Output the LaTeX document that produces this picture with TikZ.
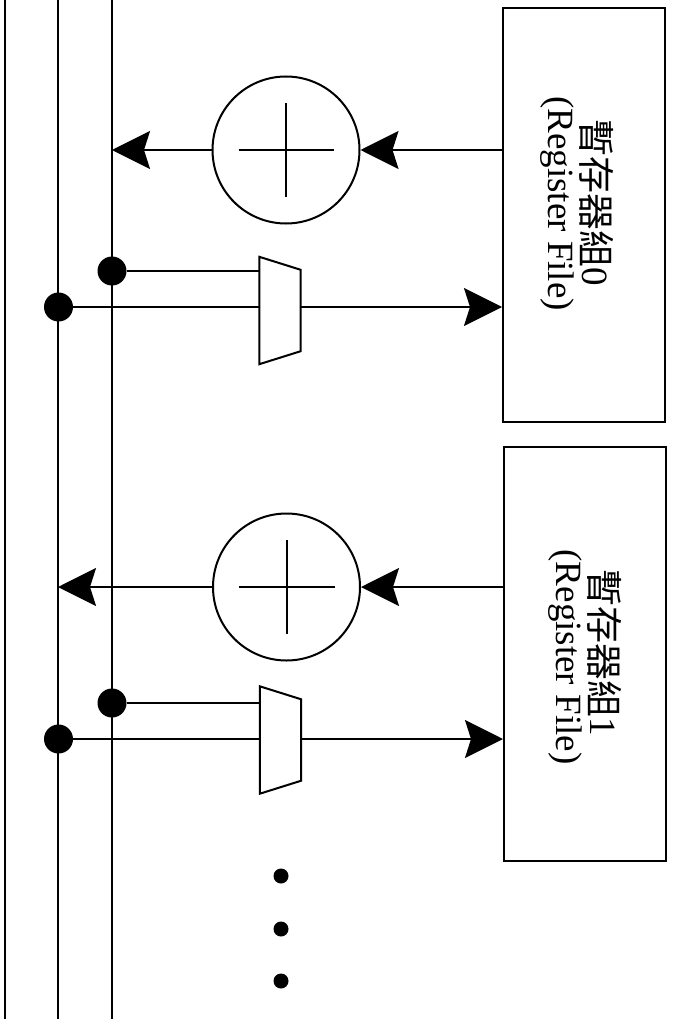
\documentclass[tikz,border=0pt]{standalone}
\usepackage{fontspec}
\setmainfont{Liberation Serif}
\newfontfamily\cjk{Noto Sans CJK TC}
\usetikzlibrary{arrows.meta,calc}
\tikzset{
  wire/.style={line width=2pt,black,line cap=butt},
  flow/.style={wire,-{Stealth[length=38pt,width=38pt,inset=6pt]}},
  regbox/.style={draw=black,line width=2pt,rectangle,inner sep=0pt,fill=white},
  adder/.style={draw=black,line width=2pt,circle,inner sep=0pt,minimum size=147pt},
  muxbox/.style={rectangle,inner sep=0pt,minimum width=41pt,minimum height=107pt},
  muxline/.style={line width=2pt,black,line join=miter},
  junction/.style={circle,fill=black,inner sep=0pt,minimum size=29pt},
  etc/.style={circle,fill=black,inner sep=0pt,minimum size=15pt},
  label/.style={rotate=-90,inner sep=0pt,font=\fontsize{37}{40}\selectfont},
}
\begin{document}
\begin{tikzpicture}[x=1pt,y=-1pt]
\useasboundingbox (0,0) rectangle (672,1019);
% buses
\coordinate (busAt) at (5,0);  \coordinate (busAb) at (5,1019);
\coordinate (busBt) at (58,0); \coordinate (busBb) at (58,1019);
\coordinate (busCt) at (112,0);\coordinate (busCb) at (112,1019);
\draw[wire] (busAt) -- (busAb);
\draw[wire] (busBt) -- (busBb);
\draw[wire] (busCt) -- (busCb);
% register files
\node[regbox,minimum width=162pt,minimum height=414pt] (rf0) at (584,215) {};
\node[regbox,minimum width=162pt,minimum height=414pt] (rf1) at (585,654) {};
\node[label] (rf0a) at (597,202.5) {{\cjk 暫存器組}0};
\node[label] (rf0b) at (557,203.5) {(Register File)};
\node[label] (rf1a) at (605,652.5) {{\cjk 暫存器組}1};
\node[label] (rf1b) at (565,657) {(Register File)};
% adders
\node[adder] (add0) at (286,150) {};
\node[adder] (add1) at (286.5,587) {};
\foreach \a in {add0,add1}{
  \draw[wire] ($(\a.center)+(-47.5,0)$) -- ($(\a.center)+(48,0)$);
  \draw[wire] ($(\a.center)+(0,-47)$) -- ($(\a.center)+(0,47)$);
}
% muxes
\node[muxbox] (mux0) at (280,310.5) {};
\node[muxbox] (mux1) at (280.5,740) {};
\foreach \m in {mux0,mux1}{
  \draw[muxline] (\m.north west) -- ($(\m.north east)+(0,13)$) -- ($(\m.south east)+(0,-13)$) -- (\m.south west) -- cycle;
}
% junctions
\node[junction] (j0c) at (112,271) {};
\node[junction] (j0b) at (58.5,307) {};
\node[junction] (j1c) at (112,703) {};
\node[junction] (j1b) at (58.5,739) {};
% connectors
\draw[flow] (rf0.west |- add0) -- (add0.east);
\draw[flow] (add0.west) -- (add0.west -| busCt);
\draw[flow] (rf1.west |- add1) -- (add1.east);
\draw[flow] (add1.west) -- (add1.west -| busBt);
\draw[wire] (j0c) -- (j0c -| mux0.west);
\draw[wire] (j0b) -- (j0b -| mux0.west);
\draw[flow] (mux0.east |- j0b) -- (rf0.west |- j0b);
\draw[wire] (j1c) -- (j1c -| mux1.west);
\draw[wire] (j1b) -- (j1b -| mux1.west);
\draw[flow] (mux1.east |- j1b) -- (rf1.west |- j1b);
% continuation dots
\node[etc] (e0) at (281,876) {};
\node[etc] (e1) at (281,929) {};
\node[etc] (e2) at (281,981) {};
\end{tikzpicture}
\end{document}
